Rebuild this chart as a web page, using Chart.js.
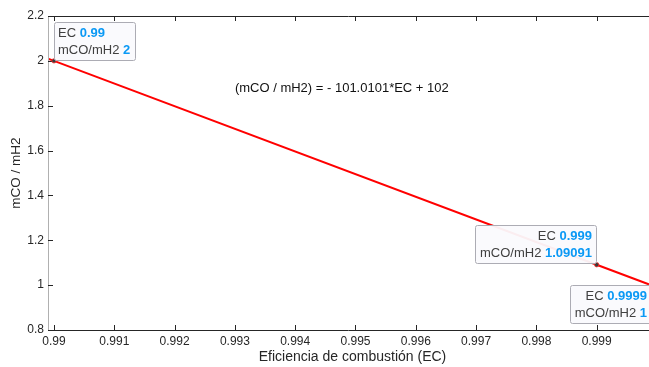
<!DOCTYPE html>
<html>
<head>
<meta charset="utf-8">
<title>mCO / mH2 vs EC</title>
<script src="https://cdn.jsdelivr.net/npm/chart.js@4"></script>
<style>
  html, body { margin: 0; padding: 0; background: #fff; overflow: hidden; }
  #wrap { width: 649px; height: 367px; }
</style>
</head>
<body>
<div id="wrap"><canvas id="ecChart" width="649" height="367"></canvas></div>
<script>
// datos
const ecValues = [0.9899, 0.99, 0.999, 0.9999];
const ratioValues = [2.0101, 2, 1.09091, 1];

const xTicks = [0.99, 0.991, 0.992, 0.993, 0.994, 0.995, 0.996, 0.997, 0.998, 0.999];
const xTickLabels = ['0.99', '0.991', '0.992', '0.993', '0.994', '0.995', '0.996', '0.997', '0.998', '0.999'];
const yTicks = [0.8, 1, 1.2, 1.4, 1.6, 1.8, 2, 2.2];
const yTickLabels = ['0.8', '1', '1.2', '1.4', '1.6', '1.8', '2', '2.2'];

// data tips
const tipEC = [0.99, 0.999, 0.9999];
const tipRatio = [2, 1.09091, 1];
const tipECText = ['0.99', '0.999', '0.9999'];
const tipRatioText = ['2', '1.09091', '1'];

const equationText = '(mCO / mH2) = - 101.0101*EC + 102';
const equationPos = [0.993, 1.875];

const FONT = "'Liberation Sans', Arial, Helvetica, sans-serif";
const AX_DARK = '#262626';

function drawTip(ctx, px, py, i, corner) {
    const lines = [['EC ', tipECText[i]], ['mCO/mH2 ', tipRatioText[i]]];
    const nf = '13px ' + FONT, bf = 'bold 13px ' + FONT;
    const widths = lines.map(l => {
        ctx.font = nf; const a = ctx.measureText(l[0]).width;
        ctx.font = bf; const b = ctx.measureText(l[1]).width;
        return [a, b];
    });
    const textW = Math.max(...widths.map(w => w[0] + w[1]));
    const w = Math.round(textW + 9), h = 38;
    let left, top;
    if (corner === 'ne') { left = px; top = py - h - 1; }
    else if (corner === 'nw') { left = px - w - 1; top = py - h - 2; }
    else { left = px - w; top = py; }
    left = Math.round(left); top = Math.round(top);

    ctx.save();
    ctx.fillStyle = 'rgba(250,250,253,0.95)';
    ctx.strokeStyle = '#acacb4';
    ctx.lineWidth = 1;
    ctx.beginPath();
    ctx.roundRect ? ctx.roundRect(left + 0.5, top + 0.5, w, h, 2) : ctx.rect(left + 0.5, top + 0.5, w, h);
    ctx.fill();
    ctx.stroke();

    ctx.textBaseline = 'middle';
    lines.forEach((l, k) => {
        const y = top + 11.5 + k * 17;
        const lw = widths[k][0] + widths[k][1];
        let x = corner === 'ne' ? left + 4 : left + w - 4 - lw;
        ctx.textAlign = 'left';
        ctx.font = nf; ctx.fillStyle = '#404040';
        ctx.fillText(l[0], x, y);
        ctx.font = bf; ctx.fillStyle = '#0a99f5';
        ctx.fillText(l[1], x + widths[k][0], y);
    });
    ctx.restore();
}

const matlabAxes = {
    id: 'matlabAxes',
    afterDatasetsDraw(chart) {
        const ctx = chart.ctx;
        const a = chart.chartArea;
        const xs = chart.scales.x, ys = chart.scales.y;
        ctx.save();

        // caja de ejes
        ctx.lineWidth = 1;
        ctx.strokeStyle = '#b0b0b0';
        ctx.beginPath();
        ctx.moveTo(a.left + 0.5, a.top); ctx.lineTo(a.left + 0.5, a.bottom);
        ctx.stroke();
        ctx.strokeStyle = AX_DARK;
        ctx.beginPath();
        ctx.moveTo(a.left, a.top + 0.5); ctx.lineTo(a.right, a.top + 0.5);
        ctx.moveTo(a.left, a.bottom + 0.5); ctx.lineTo(a.right, a.bottom + 0.5);
        // marcas hacia dentro
        xTicks.forEach(v => {
            const px = Math.round(xs.getPixelForValue(v)) + 0.5;
            ctx.moveTo(px, a.bottom); ctx.lineTo(px, a.bottom - 5);
            ctx.moveTo(px, a.top); ctx.lineTo(px, a.top + 5);
        });
        yTicks.forEach(v => {
            const py = Math.round(ys.getPixelForValue(v)) + 0.5;
            ctx.moveTo(a.left, py); ctx.lineTo(a.left + 5, py);
        });
        ctx.stroke();

        // titulos de ejes
        ctx.fillStyle = AX_DARK;
        ctx.font = '14px ' + FONT;
        ctx.textAlign = 'center';
        ctx.textBaseline = 'middle';
        ctx.fillText('Eficiencia de combustión (EC)', (a.left + a.right) / 2 + 4, 357);
        ctx.save();
        ctx.translate(16, (a.top + a.bottom) / 2);
        ctx.rotate(-Math.PI / 2);
        ctx.font = '13.5px ' + FONT;
        ctx.fillText('mCO / mH2', 0, 0);
        ctx.restore();

        // ecuacion
        ctx.fillStyle = '#111';
        ctx.font = '13px ' + FONT;
        ctx.textAlign = 'left';
        ctx.fillText(equationText, xs.getPixelForValue(equationPos[0]), ys.getPixelForValue(equationPos[1]));

        // marcadores y data tips
        const corners = ['ne', 'nw', 'sw'];
        tipEC.forEach((ec, i) => {
            const px = xs.getPixelForValue(ec), py = ys.getPixelForValue(tipRatio[i]);
            ctx.beginPath();
            ctx.arc(px, py, 2.2, 0, Math.PI * 2);
            ctx.fillStyle = '#3a3a3a';
            ctx.fill();
            ctx.strokeStyle = '#ff3030';
            ctx.lineWidth = 0.8;
            ctx.stroke();
            drawTip(ctx, px, py, i, corners[i]);
        });
        ctx.restore();
    }
};

const ctx = document.getElementById('ecChart').getContext('2d');
new Chart(ctx, {
    type: 'scatter',
    data: {
        datasets: [{
            label: 'mCO / mH2',
            data: ecValues.map((v, i) => ({ x: v, y: ratioValues[i] })),
            showLine: true,
            borderColor: '#ff0000',
            borderWidth: 2,
            pointRadius: 0,
            fill: false
        }]
    },
    options: {
        responsive: false,
        animation: false,
        devicePixelRatio: 1,
        layout: { padding: { top: 16, left: 0, right: 0, bottom: 0 } },
        plugins: { legend: { display: false }, tooltip: { enabled: false } },
        scales: {
            x: {
                type: 'linear',
                min: 0.9899005,
                max: 0.9998675,
                afterBuildTicks: s => { s.ticks = xTicks.map(v => ({ value: v })); },
                afterFit: s => { s.height = 37; },
                grid: { display: false, drawTicks: false },
                border: { display: false },
                ticks: {
                    padding: 4,
                    autoSkip: false,
                    maxRotation: 0,
                    color: AX_DARK,
                    font: { family: FONT, size: 12 },
                    callback: v => xTickLabels[xTicks.indexOf(v)]
                }
            },
            y: {
                min: 0.8,
                max: 2.2,
                afterBuildTicks: s => { s.ticks = yTicks.map(v => ({ value: v })); },
                afterFit: s => { s.width = 48; },
                grid: { display: false, drawTicks: false },
                border: { display: false },
                ticks: {
                    padding: 4,
                    autoSkip: false,
                    color: AX_DARK,
                    font: { family: FONT, size: 12 },
                    callback: v => yTickLabels[yTicks.indexOf(v)]
                }
            }
        }
    },
    plugins: [matlabAxes]
});
</script>
</body>
</html>
